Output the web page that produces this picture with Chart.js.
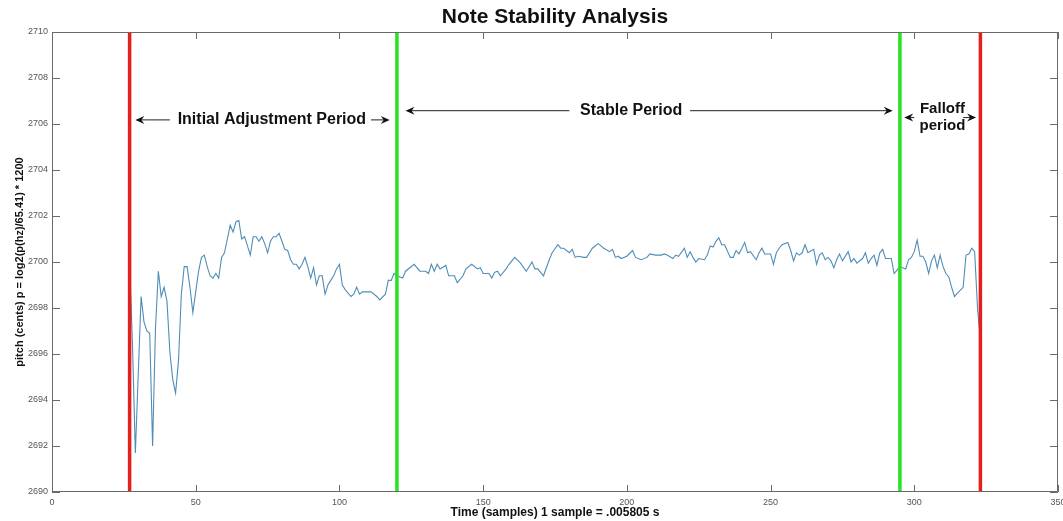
<!DOCTYPE html>
<html>
<head>
<meta charset="utf-8">
<script src="https://cdn.jsdelivr.net/npm/chart.js@4.4.1/dist/chart.umd.min.js"></script>
<style>
  html, body { margin: 0; padding: 0; background: #fff; }
  #wrap { width: 1063px; height: 521px; }
</style>
</head>
<body>
<div id="wrap"><canvas id="chartPitch"></canvas></div>
<script>
// sample index -> pitch in cents
const samples = [
  27, 28, 29, 31, 32, 33, 34, 35, 36, 37, 38, 39, 40, 41, 42, 43, 44, 45, 46, 47,
  48, 49, 50, 51, 52, 53, 54, 55, 56, 57, 58, 59, 60, 61, 62, 63, 64, 65, 66, 67,
  68, 69, 70, 71, 72, 73, 74, 75, 76, 77, 78, 79, 80, 81, 82, 83, 84, 85, 86, 87,
  88, 89, 90, 91, 92, 93, 94, 95, 96, 97, 98, 99, 100, 101, 102, 104, 105, 106, 107, 108,
  111, 113, 114, 116, 117, 118, 119, 120, 122, 123, 126, 128, 130, 131, 132, 133, 134, 135, 137, 138,
  140, 141, 143, 144, 146, 148, 149, 150, 152, 153, 154, 155, 156, 158, 159, 161, 163, 165, 167, 168,
  169, 171, 173, 174, 176, 177, 178, 180, 181, 182, 183, 185, 186, 188, 190, 191, 192, 194, 195, 196,
  197, 198, 200, 202, 203, 205, 207, 208, 210, 212, 213, 214, 216, 217, 218, 220, 221, 222, 223, 224,
  225, 227, 228, 229, 230, 231, 232, 233, 234, 236, 237, 238, 239, 241, 242, 243, 245, 246, 247, 248,
  250, 251, 252, 253, 254, 256, 257, 258, 259, 260, 261, 262, 263, 265, 266, 267, 268, 269, 270, 271,
  272, 273, 274, 275, 277, 278, 279, 280, 282, 283, 284, 285, 286, 287, 288, 289, 290, 292, 293, 294,
  295, 297, 298, 299, 300, 301, 302, 303, 304, 305, 306, 307, 308, 309, 310, 311, 312, 313, 314, 315,
  317, 318, 319, 320, 321, 322, 323
];
const pitch = [
  2700.0, 2696.4, 2691.7, 2698.5, 2697.4, 2697.0, 2696.9, 2692.0, 2697.1, 2699.6, 2698.5, 2698.9, 2698.3, 2696.1, 2694.9, 2694.3, 2695.7, 2698.6, 2699.8, 2699.8,
  2698.9, 2697.8, 2698.7, 2699.6, 2700.2, 2700.3, 2699.8, 2699.4, 2699.3, 2699.5, 2699.3, 2700.2, 2700.4, 2701.0, 2701.6, 2701.3, 2701.75, 2701.8, 2701.0, 2701.1,
  2700.7, 2700.3, 2701.1, 2701.1, 2700.9, 2701.1, 2700.8, 2700.4, 2700.9, 2701.1, 2701.1, 2701.25, 2700.9, 2700.55, 2700.5, 2700.1, 2699.9, 2699.9, 2699.7, 2699.9,
  2700.2, 2699.8, 2699.3, 2699.75, 2699.0, 2699.4, 2699.4, 2698.6, 2699.0, 2699.2, 2699.4, 2699.7, 2699.9, 2699.0, 2698.8, 2698.5, 2698.6, 2698.9, 2698.6, 2698.7,
  2698.7, 2698.5, 2698.35, 2698.6, 2699.2, 2699.2, 2699.5, 2699.4, 2699.3, 2699.6, 2699.9, 2699.6, 2699.6, 2699.5, 2699.9, 2699.6, 2699.9, 2699.7, 2699.85, 2699.4,
  2699.4, 2699.1, 2699.4, 2699.7, 2699.9, 2699.7, 2699.75, 2699.5, 2699.5, 2699.3, 2699.55, 2699.6, 2699.4, 2699.7, 2699.9, 2700.2, 2699.95, 2699.6, 2700.0, 2699.7,
  2699.7, 2699.4, 2700.1, 2700.4, 2700.75, 2700.6, 2700.6, 2700.4, 2700.55, 2700.2, 2700.25, 2700.2, 2700.2, 2700.6, 2700.8, 2700.7, 2700.6, 2700.45, 2700.55, 2700.2,
  2700.25, 2700.15, 2700.25, 2700.5, 2700.2, 2700.1, 2700.2, 2700.35, 2700.3, 2700.3, 2700.35, 2700.3, 2700.15, 2700.3, 2700.25, 2700.6, 2700.2, 2700.45, 2700.2, 2700.0,
  2700.15, 2700.1, 2700.3, 2700.7, 2700.65, 2700.9, 2701.05, 2700.75, 2700.75, 2700.2, 2700.2, 2700.5, 2700.35, 2700.85, 2700.4, 2700.45, 2700.1, 2700.4, 2700.6, 2700.35,
  2700.35, 2699.9, 2700.4, 2700.6, 2700.75, 2700.85, 2700.5, 2700.05, 2700.4, 2700.3, 2700.4, 2700.75, 2700.4, 2700.55, 2699.9, 2700.3, 2700.4, 2700.1, 2700.2, 2700.05,
  2699.75, 2700.1, 2700.35, 2700.05, 2700.45, 2700.0, 2700.15, 2699.95, 2700.15, 2700.4, 2699.95, 2700.15, 2700.3, 2699.85, 2700.4, 2700.55, 2700.15, 2700.15, 2699.5, 2699.65,
  2699.8, 2699.7, 2700.1, 2700.2, 2700.45, 2700.95, 2700.25, 2700.25, 2700.0, 2699.5, 2700.05, 2700.3, 2699.75, 2700.3, 2699.8, 2699.5, 2699.35, 2698.9, 2698.5, 2698.65,
  2698.9, 2700.3, 2700.35, 2700.6, 2700.45, 2698.0, 2696.6
];

// period boundaries (sample index)
const boundaries = [27, 120, 295, 323];
const boundaryColors = ['#e3201b', '#27e322', '#27e322', '#e3201b'];

const xTicks = [0, 50, 100, 150, 200, 250, 300, 350];
const yTicks = [2690, 2692, 2694, 2696, 2698, 2700, 2702, 2704, 2706, 2708, 2710];

const FONT = '"Liberation Sans", Arial, sans-serif';

const datasets = boundaries.map((b, i) => ({
    data: [{ x: b, y: yTicks[0] }, { x: b, y: yTicks[yTicks.length - 1] }],
    borderColor: boundaryColors[i],
    borderWidth: 3.5,
    pointRadius: 0,
    order: 0
}));

datasets.push({
    data: samples.map((s, i) => ({ x: s, y: pitch[i] })),
    borderColor: '#4f8db7',
    borderWidth: 1.1,
    pointRadius: 0,
    tension: 0,
    order: 1
});

// matlab-ish box, inward ticks, title and the period arrows
const decorPlugin = {
    id: 'decor',
    afterDraw(chart) {
        const { ctx, chartArea: a, scales: { x, y } } = chart;
        ctx.save();

        ctx.strokeStyle = '#6a6a6a';
        ctx.lineWidth = 1;
        ctx.beginPath();
        ctx.rect(a.left + 0.5, a.top + 0.5, a.right - a.left - 1, a.bottom - a.top - 1);
        xTicks.forEach(v => {
            const px = Math.round(x.getPixelForValue(v)) + 0.5;
            ctx.moveTo(px, a.bottom); ctx.lineTo(px, a.bottom - 7);
            ctx.moveTo(px, a.top); ctx.lineTo(px, a.top + 7);
        });
        yTicks.forEach(v => {
            const py = Math.round(y.getPixelForValue(v)) + 0.5;
            ctx.moveTo(a.left, py); ctx.lineTo(a.left + 8, py);
            ctx.moveTo(a.right, py); ctx.lineTo(a.right - 8, py);
        });
        ctx.stroke();

        ctx.fillStyle = '#111';
        ctx.textAlign = 'center';
        ctx.textBaseline = 'middle';
        ctx.font = 'bold 21px ' + FONT;
        ctx.fillText('Note Stability Analysis', (a.left + a.right) / 2, 17);

        const X = v => x.getPixelForValue(v);
        const Y = v => y.getPixelForValue(v);

        function arrow(x1, yy, x2) {
            const dir = Math.sign(x2 - x1);
            ctx.strokeStyle = '#222';
            ctx.lineWidth = 1;
            ctx.beginPath();
            ctx.moveTo(x1, yy + 0.5);
            ctx.lineTo(x2 - dir * 4, yy + 0.5);
            ctx.stroke();
            ctx.fillStyle = '#111';
            ctx.beginPath();
            ctx.moveTo(x2, yy + 0.5);
            ctx.lineTo(x2 - dir * 9, yy - 3.5);
            ctx.lineTo(x2 - dir * 6, yy + 0.5);
            ctx.lineTo(x2 - dir * 9, yy + 4.5);
            ctx.closePath();
            ctx.fill();
        }

        ctx.font = 'bold 16px ' + FONT;
        ctx.fillStyle = '#111';
        ctx.fillText('Initial Adjustment Period', X(76.5), Y(2706.2));
        arrow(X(41), Y(2706.2), X(29));
        arrow(X(111), Y(2706.2), X(117.5));

        ctx.fillStyle = '#111';
        ctx.fillText('Stable Period', X(201.5), Y(2706.6));
        arrow(X(180), Y(2706.6), X(123));
        arrow(X(222), Y(2706.6), X(292.5));

        ctx.fillStyle = '#111';
        ctx.font = 'bold 15px ' + FONT;
        ctx.fillText('Falloff', X(309.8), Y(2706.65));
        ctx.fillText('period', X(309.8), Y(2705.9));
        arrow(X(300), Y(2706.3), X(296.5));
        arrow(X(317), Y(2706.3), X(321.5));

        ctx.restore();
    }
};

const noPad = s => { s.paddingLeft = 0; s.paddingRight = 0; s.paddingTop = 0; s.paddingBottom = 0; };

document.addEventListener('DOMContentLoaded', () => {

    new Chart(document.getElementById('chartPitch'), {

        type: 'line',

        data: { datasets },

        options: {
            responsive: true,
            maintainAspectRatio: false,
            animation: false,
            layout: { autoPadding: false, padding: { top: 32, right: 5, left: 0, bottom: 0 } },
            plugins: { legend: { display: false }, tooltip: { enabled: false } },
            scales: {
                x: {
                    type: 'linear',
                    min: xTicks[0],
                    max: xTicks[xTicks.length - 1],
                    afterBuildTicks: s => { s.ticks = xTicks.map(v => ({ value: v })); },
                    afterFit: s => { s.height = 29; noPad(s); },
                    grid: { display: false, drawTicks: false },
                    border: { display: false },
                    ticks: {
                        padding: 5, maxRotation: 0, color: '#555',
                        font: { family: FONT, size: 9 },
                        callback: v => String(v)
                    },
                    title: {
                        display: true,
                        text: 'Time (samples) 1 sample = .005805 s',
                        color: '#111',
                        padding: { top: 0, bottom: 1 },
                        font: { family: FONT, size: 12, weight: 'bold' }
                    }
                },
                y: {
                    min: yTicks[0],
                    max: yTicks[yTicks.length - 1],
                    afterBuildTicks: s => { s.ticks = yTicks.map(v => ({ value: v })); },
                    afterFit: s => { s.width = 52; noPad(s); },
                    grid: { display: false, drawTicks: false },
                    border: { display: false },
                    ticks: {
                        padding: 4, color: '#555',
                        font: { family: FONT, size: 9 },
                        callback: v => String(v)
                    },
                    title: {
                        display: true,
                        text: 'pitch (cents) p = log2(p(hz)/65.41) * 1200',
                        color: '#111',
                        padding: { top: 13, bottom: 0 },
                        font: { family: FONT, size: 11, weight: 'bold' }
                    }
                }
            }
        },

        plugins: [decorPlugin]

    });

});
</script>
</body>
</html>
